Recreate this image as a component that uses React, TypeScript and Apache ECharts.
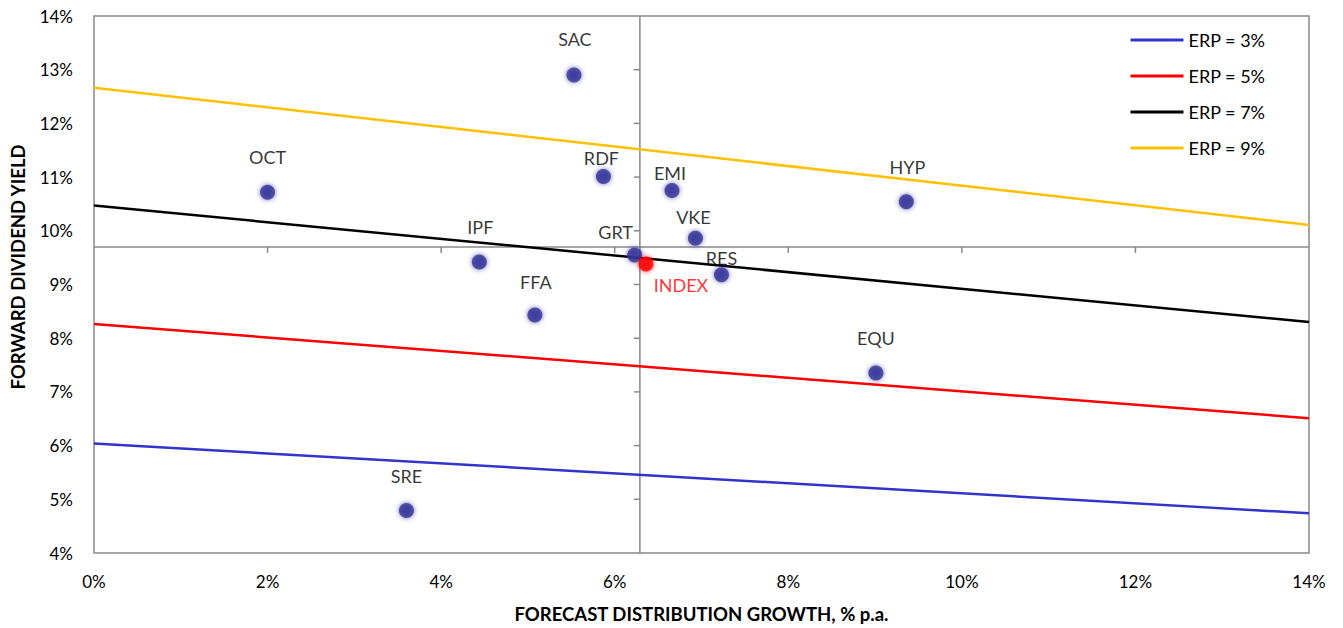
import React, { useEffect, useRef } from "react";
import * as echarts from "echarts";

// ---- data ----
const trustNames = ["SAC", "RDF", "EMI", "VKE", "GRT", "IPF", "FFA", "RES", "OCT", "HYP", "EQU", "SRE"];
const trustGrowth = [5.53, 5.87, 6.66, 6.93, 6.23, 4.44, 5.08, 7.23, 2.0, 9.36, 9.01, 3.6];
const trustYield = [12.9, 11.01, 10.75, 9.86, 9.55, 9.42, 8.43, 9.18, 10.72, 10.54, 7.35, 4.79];

const indexName = "INDEX";
const indexGrowth = 6.36;
const indexYield = 9.38;

const erpNames = ["ERP = 3%", "ERP = 5%", "ERP = 7%", "ERP = 9%"];
const erpGrowthEnds = [0, 14];
const erp3 = [6.04, 4.74];
const erp5 = [8.265, 6.51];
const erp7 = [10.47, 8.3];
const erp9 = [12.665, 10.11];

const crossGrowth = 6.29;
const crossYield = 9.7;
const crossXTicks = [2, 4, 6, 8, 10, 12];
const crossYTicks = [5, 6, 7, 8, 9, 10, 11, 12, 13];

// ---- styles ----
const labelOffsets: Record<string, [number, number]> = {
  SAC: [1, -36],
  RDF: [-2, -19],
  EMI: [-2, -18],
  VKE: [-2, -21],
  GRT: [-19, -23],
  IPF: [1, -35],
  FFA: [1, -33],
  RES: [0, -17],
  OCT: [0, -35],
  HYP: [1, -35],
  EQU: [0, -35],
  SRE: [0, -35],
};
const erpColors = ["#3333cc", "#ff0000", "#000000", "#ffc000"];
const FONT = "Lato";
const AXIS_GRAY = "#898989";
const TEXT = "#000";

export default function App() {
  const ref = useRef<HTMLDivElement>(null);

  useEffect(() => {
    if (!ref.current) return;
    const chart = echarts.init(ref.current, undefined, { renderer: "svg" });
    const erpData = [erp3, erp5, erp7, erp9];

    const lineSeries = erpNames.map((name, i) => ({
      name,
      type: "line",
      data: erpGrowthEnds.map((g, j) => [g, erpData[i][j]]),
      showSymbol: false,
      symbol: "none",
      lineStyle: { color: erpColors[i], width: 2.5 },
      itemStyle: { color: erpColors[i] },
      z: 3,
      silent: true,
    }));

    const option: any = {
      animation: false,
      textStyle: { fontFamily: FONT },
      grid: {
        left: 94,
        top: 16,
        right: 34,
        bottom: 75,
        show: true,
        borderColor: AXIS_GRAY,
        borderWidth: 1.5,
        backgroundColor: "transparent",
      },
      legend: {
        data: erpNames,
        orient: "vertical",
        left: 1124,
        top: 26,
        itemWidth: 53,
        itemHeight: 18,
        itemGap: 18,
        itemStyle: { opacity: 0 },
        lineStyle: { width: 3 },
        textStyle: { fontFamily: FONT, fontSize: 18, color: TEXT },
      },
      xAxis: {
        type: "value",
        min: 0,
        max: 14,
        interval: 2,
        axisLine: { show: false },
        axisTick: { show: false },
        splitLine: { show: false },
        axisLabel: {
          formatter: "{value}%",
          fontFamily: FONT,
          fontSize: 17,
          color: TEXT,
          margin: 20,
        },
        name: "FORECAST DISTRIBUTION GROWTH, % p.a.",
        nameLocation: "middle",
        nameGap: 51,
        nameTextStyle: { fontFamily: FONT, fontSize: 18.5, fontWeight: "bold", color: TEXT },
      },
      yAxis: {
        type: "value",
        min: 4,
        max: 14,
        interval: 1,
        axisLine: { show: false },
        axisTick: { show: false },
        splitLine: { show: false },
        axisLabel: {
          formatter: "{value}%",
          fontFamily: FONT,
          fontSize: 17,
          color: TEXT,
          margin: 21,
        },
      },
      graphic: [
        {
          type: "text",
          x: 18,
          y: 267,
          rotation: Math.PI / 2,
          style: {
            text: "FORWARD DIVIDEND YIELD",
            font: `bold 18.5px ${FONT}`,
            fill: TEXT,
            align: "center",
            verticalAlign: "middle",
          },
        },
      ],
      series: [
        {
          type: "custom",
          silent: true,
          z: 1,
          clip: false,
          data: [[crossGrowth, crossYield]],
          renderItem: (params: any, api: any) => {
            const cs = params.coordSys;
            const gx = api.value(0);
            const gy = api.value(1);
            const c = api.coord([gx, gy]);
            const style = { stroke: AXIS_GRAY, lineWidth: 1.5, fill: null };
            const children: any[] = [
              { type: "line", shape: { x1: c[0], y1: cs.y, x2: c[0], y2: cs.y + cs.height }, style },
              { type: "line", shape: { x1: cs.x, y1: c[1], x2: cs.x + cs.width, y2: c[1] }, style },
            ];
            crossYTicks.forEach((v) => {
              const p = api.coord([gx, v]);
              children.push({ type: "line", shape: { x1: p[0] - 6, y1: p[1], x2: p[0], y2: p[1] }, style });
            });
            crossXTicks.forEach((v) => {
              const p = api.coord([v, gy]);
              children.push({ type: "line", shape: { x1: p[0], y1: p[1], x2: p[0], y2: p[1] + 6 }, style });
            });
            return { type: "group", children };
          },
        },
        ...lineSeries,
        {
          name: "Trusts",
          type: "scatter",
          z: 5,
          symbol: "circle",
          symbolSize: 15,
          itemStyle: {
            color: "#35359a",
            shadowBlur: 5,
            shadowColor: "rgba(53,53,154,0.9)",
          },
          label: {
            show: true,
            position: "inside",
            formatter: "{b}",
            fontFamily: FONT,
            fontSize: 18,
            color: TEXT,
          },
          data: trustNames.map((n, i) => ({
            name: n,
            value: [trustGrowth[i], trustYield[i]],
            label: { offset: labelOffsets[n] },
          })),
        },
        {
          name: indexName,
          type: "scatter",
          z: 6,
          symbol: "circle",
          symbolSize: 15,
          itemStyle: {
            color: "#ff0000",
            shadowBlur: 5,
            shadowColor: "rgba(255,0,0,0.9)",
          },
          label: {
            show: true,
            position: "inside",
            formatter: "{b}",
            offset: [35, 21],
            fontFamily: FONT,
            fontSize: 18,
            color: "#ff0000",
          },
          data: [{ name: indexName, value: [indexGrowth, indexYield] }],
        },
      ],
    };

    chart.setOption(option);
    return () => chart.dispose();
  }, []);

  return (
    <div
      ref={ref}
      style={{ position: "fixed", left: 0, top: 0, width: 1343, height: 628, background: "#fff" }}
    />
  );
}
